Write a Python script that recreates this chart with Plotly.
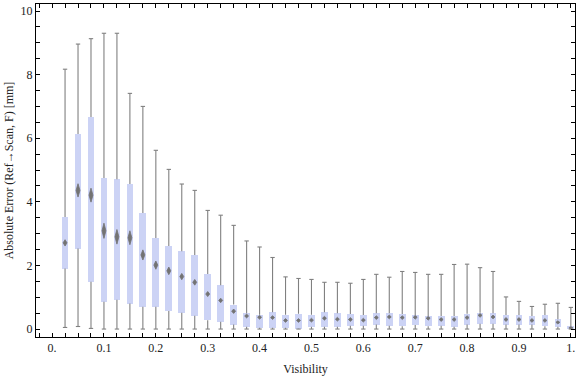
import plotly.graph_objects as go

visibility = [0.025, 0.05, 0.075, 0.1, 0.125, 0.15, 0.175, 0.2, 0.225, 0.25,
              0.275, 0.3, 0.325, 0.35, 0.375, 0.4, 0.425, 0.45, 0.475, 0.5,
              0.525, 0.55, 0.575, 0.6, 0.625, 0.65, 0.675, 0.7, 0.725, 0.75,
              0.775, 0.8, 0.825, 0.85, 0.875, 0.9, 0.925, 0.95, 0.975, 1.0]

err_min = [0.05, 0.08, 0.02, 0.0, 0.0, 0.0, 0.0, 0.0, 0.0, 0.0,
           0.0, 0.0, 0.0, 0.0, 0.0, 0.0, 0.0, 0.0, 0.0, 0.0,
           0.0, 0.0, 0.0, 0.0, 0.0, 0.0, 0.0, 0.0, 0.0, 0.0,
           0.0, 0.0, 0.0, 0.0, 0.0, 0.0, 0.0, 0.0, 0.0, 0.0]

err_q1 = [1.90, 2.53, 1.49, 0.86, 0.92, 0.80, 0.70, 0.70, 0.57, 0.51,
          0.42, 0.28, 0.23, 0.14, 0.07, 0.04, 0.04, 0.04, 0.01, 0.07,
          0.07, 0.07, 0.10, 0.10, 0.14, 0.10, 0.09, 0.13, 0.09, 0.10,
          0.07, 0.14, 0.17, 0.17, 0.14, 0.14, 0.14, 0.09, 0.07, 0.0]

err_median = [2.71, 4.36, 4.21, 3.09, 2.90, 2.87, 2.33, 2.01, 1.83, 1.65,
              1.47, 1.10, 0.90, 0.56, 0.41, 0.37, 0.36, 0.27, 0.27, 0.28,
              0.34, 0.31, 0.30, 0.28, 0.36, 0.38, 0.36, 0.37, 0.34, 0.30,
              0.30, 0.36, 0.43, 0.38, 0.30, 0.30, 0.27, 0.27, 0.21, 0.04]

err_q3 = [3.52, 6.13, 6.67, 4.75, 4.71, 4.56, 3.65, 2.86, 2.61, 2.45,
          2.33, 1.73, 1.38, 0.77, 0.50, 0.45, 0.53, 0.45, 0.48, 0.45,
          0.53, 0.50, 0.47, 0.44, 0.50, 0.50, 0.47, 0.44, 0.41, 0.41,
          0.41, 0.48, 0.51, 0.50, 0.44, 0.44, 0.41, 0.44, 0.31, 0.09]

err_max = [8.17, 8.96, 9.13, 9.30, 9.30, 7.41, 7.00, 5.62, 5.02, 4.56,
           4.36, 3.73, 3.58, 3.26, 2.77, 2.58, 2.25, 1.64, 1.59, 1.56,
           1.47, 1.47, 1.44, 1.56, 1.72, 1.63, 1.81, 1.78, 1.72, 1.72,
           2.03, 2.04, 1.93, 1.81, 1.01, 0.87, 0.71, 0.78, 0.81, 0.68]

# half-height of the median confidence diamond
median_ci = [0.10, 0.21, 0.22, 0.24, 0.23, 0.22, 0.16, 0.13, 0.12, 0.10,
             0.09, 0.08, 0.07, 0.07, 0.06, 0.06, 0.06, 0.06, 0.06, 0.06,
             0.06, 0.06, 0.06, 0.06, 0.06, 0.06, 0.06, 0.06, 0.06, 0.06,
             0.06, 0.06, 0.06, 0.06, 0.06, 0.06, 0.06, 0.06, 0.05, 0.04]

x_tick_vals = [0.0, 0.1, 0.2, 0.3, 0.4, 0.5, 0.6, 0.7, 0.8, 0.9, 1.0]
x_tick_text = ["0.", "0.1", "0.2", "0.3", "0.4", "0.5", "0.6", "0.7", "0.8", "0.9", "1."]
y_tick_vals = [0, 2, 4, 6, 8, 10]

BOX_W = 0.013
CAP_HW = 0.0042
DIA_HW = 0.0038

box_fill = "rgb(204,211,245)"
whisk_col = "rgb(128,128,128)"
dia_col = "rgb(115,115,115)"

fig = go.Figure()

# boxes
fig.add_trace(go.Bar(
    x=visibility,
    y=[q3 - q1 for q1, q3 in zip(err_q1, err_q3)],
    base=err_q1,
    width=BOX_W,
    marker=dict(color=box_fill, line=dict(width=0)),
    hoverinfo="skip",
    showlegend=False,
))

# whiskers with caps
wx, wy = [], []
for x, mn, q1, q3, mx in zip(visibility, err_min, err_q1, err_q3, err_max):
    wx += [x, x, None, x, x, None,
           x - CAP_HW, x + CAP_HW, None, x - CAP_HW, x + CAP_HW, None]
    wy += [q3, mx, None, mn, q1, None,
           mx, mx, None, mn, mn, None]
fig.add_trace(go.Scatter(
    x=wx, y=wy, mode="lines",
    line=dict(color=whisk_col, width=1.1),
    hoverinfo="skip", showlegend=False,
))

# median diamonds
dx, dy = [], []
for x, m, h in zip(visibility, err_median, median_ci):
    dx += [x, x + DIA_HW, x, x - DIA_HW, x, None]
    dy += [m + h, m, m - h, m, m + h, None]
fig.add_trace(go.Scatter(
    x=dx, y=dy, mode="lines", fill="toself",
    fillcolor=dia_col,
    line=dict(color=dia_col, width=0.8),
    hoverinfo="skip", showlegend=False,
))

font_family = "Liberation Serif"
axis_common = dict(
    showgrid=False, zeroline=False, automargin=False,
    showline=True, linecolor="black", linewidth=1,
    mirror="allticks", ticks="inside", ticklen=4, tickwidth=1,
    tickcolor="black",
    tickfont=dict(family=font_family, size=12, color="#222222"),
)

fig.update_layout(
    width=576, height=377,
    margin=dict(l=36, r=1, t=4, b=40),
    paper_bgcolor="white", plot_bgcolor="white",
    bargap=0,
    font=dict(family=font_family, size=12, color="#222222"),
    xaxis=dict(
        range=[-0.031, 1.008],
        tickvals=x_tick_vals, ticktext=x_tick_text,
        minor=dict(dtick=0.025, tick0=0, ticks="inside", ticklen=4, tickcolor="black"),
        title=dict(text="Visibility", font=dict(family=font_family, size=12), standoff=10),
        **axis_common,
    ),
    yaxis=dict(
        range=[-0.25, 10.22],
        tickvals=y_tick_vals,
        minor=dict(dtick=0.5, tick0=0, ticks="inside", ticklen=4, tickcolor="black"),
        title=dict(text="Absolute Error (Ref\u2192Scan, F) [mm]",
                   font=dict(family=font_family, size=12), standoff=4),
        **axis_common,
    ),
)

fig.write_html("out.html",
               config={"displayModeBar": False},
               post_script="document.body.style.margin='0px';document.body.style.overflow='hidden';")
